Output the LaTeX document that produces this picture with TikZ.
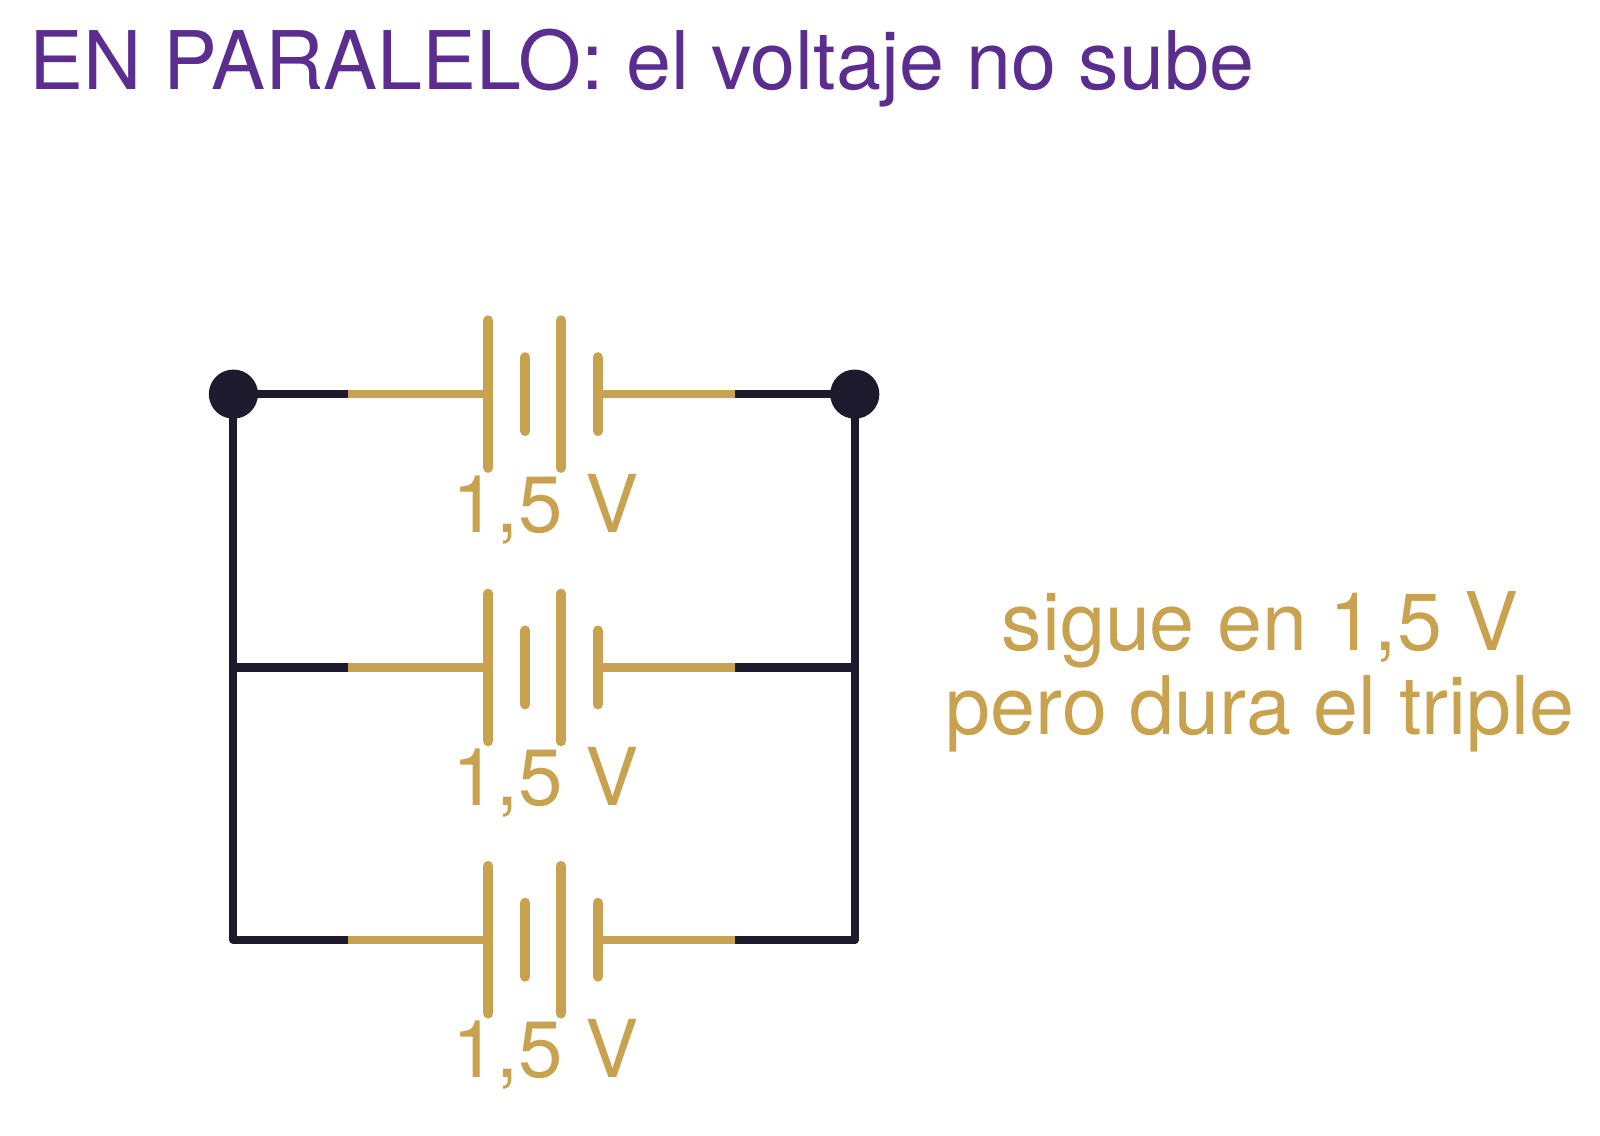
\documentclass[tikz,border=0pt]{standalone}
\usepackage{fontspec}
\setmainfont{TeX Gyre Heros}
\definecolor{gold}{HTML}{C8A24E}
\definecolor{wire}{HTML}{1E1A2E}
\definecolor{violet}{HTML}{5B2D8E}
\begin{document}
\begin{tikzpicture}
  [x=0.5pt,y=-0.5pt,
    wire/.style={draw=wire,line width=4pt,line cap=round},
    lead/.style={draw=gold,line width=4pt},
    plate/.style={draw=gold,line width=5pt,line cap=round},
    volt/.style={text=gold,font=\fontsize{39}{39}\selectfont,inner sep=0pt},
]
  \useasboundingbox (0,0) rectangle (1563,1109);
  \node[anchor=base west,inner sep=0pt,text=violet,font=\fontsize{39.5}{40}\selectfont]
    (title) at (28,87) {EN PARALELO: el voltaje no sube};
  \foreach \y/\n in {385/a,652/b,918/c}{
    \coordinate (L\n) at (228,\y);
    \coordinate (R\n) at (835,\y);
    \draw[wire] (L\n) -- (340,\y);
    \draw[wire] (718,\y) -- (R\n);
    \draw[lead] (340,\y) -- (477,\y);
    \draw[lead] (584,\y) -- (718,\y);
    \draw[plate] (477,\y-72) -- (477,\y+72);
    \draw[plate] (513,\y-36) -- (513,\y+36);
    \draw[plate] (548,\y-72) -- (548,\y+72);
    \draw[plate] (584,\y-36) -- (584,\y+36);
    \node[volt,anchor=base] (V\n) at (533,\y+135) {1,5 V};
  }
  \draw[wire] (La) -- (Lc);
  \draw[wire] (Ra) -- (Rc);
  \fill[wire,fill=wire] (La) circle (20) (Ra) circle (20);
  \node[volt,align=center,font=\fontsize{39.5}{41}\selectfont] (note) at (1231,656)
    {sigue en 1,5 V\\pero dura el triple};
\end{tikzpicture}
\end{document}
